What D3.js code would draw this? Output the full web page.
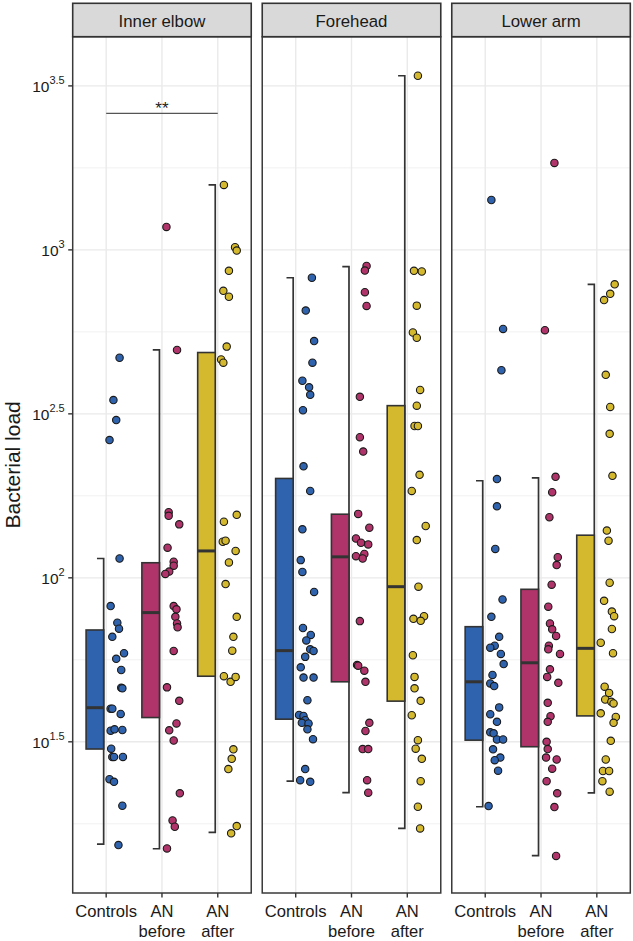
<!DOCTYPE html>
<html><head><meta charset="utf-8">
<script src="https://cdn.jsdelivr.net/npm/d3@7"></script>
<style>body{margin:0;background:#fff}svg{display:block}text{font-family:"Liberation Sans",Arial,sans-serif}</style>
</head><body>
<script>
// ---- data (values are log10 of bacterial load; second entry = horizontal jitter, fraction of category step) ----
const sites = ["Inner elbow", "Forehead", "Lower arm"];
const categories = ["Controls", "AN before", "AN after"];
const categoryLines = [["Controls"], ["AN", "before"], ["AN", "after"]];
const colors = ["#2F63AD", "#B0346A", "#D4B82E"];
const yTickExponents = ["1.5", "2", "2.5", "3", "3.5"];

const innerElbowControls = [[2.671,0.24],[2.542,0.13],[2.481,0.18],[2.420,0.06],[2.059,0.24],[1.914,0.08],[1.863,0.20],[1.845,0.23],[1.820,0.11],[1.770,0.32],[1.753,0.18],[1.719,0.27],[1.665,0.27],[1.663,0.29],[1.601,0.08],[1.601,0.11],[1.585,0.26],[1.534,0.08],[1.538,0.15],[1.536,0.29],[1.479,0.09],[1.454,0.11],[1.454,0.14],[1.454,0.30],[1.386,0.06],[1.378,0.14],[1.305,0.29],[1.185,0.22]];
const innerElbowANBefore = [[3.070,0.08],[2.695,0.27],[2.200,0.12],[2.189,0.12],[2.163,0.31],[2.092,0.10],[2.049,0.21],[2.037,0.21],[2.019,0.13],[2.012,0.06],[1.914,0.21],[1.904,0.26],[1.881,0.24],[1.861,0.27],[1.849,0.28],[1.777,0.21],[1.666,0.09],[1.625,0.31],[1.556,0.26],[1.535,0.13],[1.504,0.21],[1.343,0.32],[1.260,0.19],[1.241,0.23],[1.175,0.09]];
const innerElbowANAfter = [[3.198,0.11],[3.008,0.31],[2.998,0.34],[2.936,0.20],[2.875,0.10],[2.857,0.20],[2.705,0.16],[2.666,0.06],[2.656,0.10],[2.192,0.34],[2.171,0.11],[2.110,0.09],[2.113,0.14],[2.082,0.32],[2.047,0.20],[1.981,0.14],[1.881,0.34],[1.820,0.28],[1.778,0.26],[1.700,0.11],[1.683,0.23],[1.698,0.32],[1.477,0.28],[1.448,0.25],[1.417,0.19],[1.243,0.34],[1.221,0.24]];

const foreheadControls = [[2.915,0.29],[2.815,0.18],[2.722,0.33],[2.656,0.30],[2.601,0.12],[2.581,0.24],[2.558,0.26],[2.511,0.13],[2.340,0.14],[2.265,0.26],[2.148,0.12],[2.054,0.09],[2.018,0.12],[1.957,0.33],[1.847,0.13],[1.826,0.27],[1.809,0.19],[1.782,0.26],[1.777,0.32],[1.759,0.17],[1.727,0.09],[1.696,0.14],[1.696,0.32],[1.627,0.21],[1.582,0.06],[1.579,0.14],[1.566,0.17],[1.558,0.11],[1.556,0.23],[1.538,0.21],[1.508,0.31],[1.417,0.17],[1.383,0.08],[1.378,0.26]];
const foreheadANBefore = [[2.951,0.27],[2.937,0.24],[2.871,0.24],[2.829,0.27],[2.552,0.15],[2.429,0.15],[2.385,0.21],[2.195,0.12],[2.153,0.32],[2.120,0.08],[2.107,0.17],[2.102,0.30],[2.066,0.08],[2.073,0.23],[2.059,0.20],[1.868,0.15],[1.734,0.10],[1.732,0.12],[1.717,0.23],[1.683,0.25],[1.558,0.32],[1.533,0.25],[1.478,0.20],[1.478,0.30],[1.383,0.28],[1.345,0.30]];
const foreheadANAfter = [[3.531,0.19],[2.936,0.12],[2.934,0.26],[2.830,0.17],[2.748,0.10],[2.732,0.17],[2.573,0.23],[2.525,0.17],[2.463,0.13],[2.463,0.19],[2.314,0.22],[2.265,0.08],[2.158,0.33],[2.115,0.17],[1.973,0.20],[1.883,0.30],[1.875,0.11],[1.869,0.24],[1.764,0.10],[1.698,0.13],[1.663,0.13],[1.625,0.24],[1.581,0.08],[1.505,0.19],[1.479,0.15],[1.448,0.26],[1.380,0.24],[1.302,0.19],[1.236,0.23]];

const lowerArmControls = [[3.152,0.11],[2.759,0.32],[2.633,0.29],[2.301,0.21],[2.218,0.21],[2.088,0.18],[1.934,0.31],[1.881,0.11],[1.820,0.25],[1.793,0.17],[1.787,0.09],[1.768,0.28],[1.737,0.33],[1.704,0.13],[1.678,0.09],[1.670,0.16],[1.605,0.25],[1.584,0.09],[1.561,0.21],[1.529,0.09],[1.526,0.15],[1.507,0.21],[1.507,0.32],[1.477,0.14],[1.452,0.27],[1.444,0.17],[1.412,0.23],[1.304,0.06]];
const lowerArmANBefore = [[3.265,0.24],[2.755,0.07],[2.308,0.26],[2.261,0.20],[2.185,0.15],[2.063,0.30],[2.039,0.28],[1.979,0.19],[1.912,0.13],[1.861,0.16],[1.843,0.20],[1.823,0.27],[1.793,0.14],[1.782,0.13],[1.768,0.34],[1.721,0.16],[1.698,0.11],[1.680,0.31],[1.619,0.12],[1.578,0.17],[1.561,0.12],[1.500,0.10],[1.478,0.12],[1.452,0.09],[1.446,0.28],[1.418,0.20],[1.380,0.10],[1.343,0.29],[1.301,0.24],[1.152,0.27]];
const lowerArmANAfter = [[2.895,0.32],[2.866,0.24],[2.847,0.13],[2.619,0.16],[2.521,0.24],[2.439,0.23],[2.311,0.28],[2.144,0.18],[2.113,0.21],[1.985,0.23],[1.930,0.13],[1.897,0.27],[1.883,0.31],[1.844,0.27],[1.802,0.07],[1.770,0.29],[1.668,0.14],[1.649,0.22],[1.629,0.15],[1.622,0.26],[1.617,0.30],[1.587,0.07],[1.576,0.34],[1.558,0.30],[1.503,0.25],[1.446,0.16],[1.411,0.11],[1.411,0.22],[1.380,0.10],[1.348,0.23]];

// box stats: [lower whisker, Q1, median, Q3, upper whisker] (log10)
const innerElbowBoxes = [[1.188,1.478,1.604,1.841,2.059],[1.174,1.574,1.894,2.046,2.695],[1.224,1.700,2.082,2.687,3.198]];
const foreheadBoxes   = [[1.380,1.569,1.778,2.303,2.915],[1.345,1.683,2.064,2.194,2.949],[1.236,1.624,1.973,2.525,3.531]];
const lowerArmBoxes   = [[1.302,1.505,1.683,1.851,2.296],[1.153,1.485,1.741,1.965,2.305],[1.344,1.579,1.785,2.130,2.895]];

// significance annotation
const sigSite = "Inner elbow", sigFrom = "Controls", sigTo = "AN after", sigLevel = 3.416, sigLabel = "**";

const yDomainLog = [1.039, 3.650];

// ---- build ----
const points = [innerElbowControls, innerElbowANBefore, innerElbowANAfter,
                foreheadControls, foreheadANBefore, foreheadANAfter,
                lowerArmControls, lowerArmANBefore, lowerArmANAfter];
const boxes = [innerElbowBoxes, foreheadBoxes, lowerArmBoxes];

const W = 633, H = 941;
const plotTop = 36.7, plotBottom = 893, plotLeft = 72.7, plotRight = 630.3;
const stripTop = 3.3;

const svg = d3.select("body").append("svg").attr("width", W).attr("height", H);

const fx = d3.scaleBand().domain(sites).range([plotLeft, plotRight]).paddingInner(0.058).paddingOuter(0);
const pw = fx.bandwidth();
const x = d3.scalePoint().domain(categories).range([0, pw]).padding(0.6);
const step = x.step();
const y = d3.scaleLog().domain(yDomainLog.map(v => Math.pow(10, v))).range([plotBottom, plotTop]);
const ly = v => y(Math.pow(10, v));

const majorTicks = yTickExponents.map(e => +e);
const minorTicks = [1.25, 1.75, 2.25, 2.75, 3.25];

sites.forEach((site, si) => {
  const g = svg.append("g").attr("transform", `translate(${fx(site)},0)`);
  // background grid
  g.selectAll(".minor").data(minorTicks).join("line")
    .attr("x1", 0).attr("x2", pw).attr("y1", d => ly(d)).attr("y2", d => ly(d))
    .attr("stroke", "#F1F1F1").attr("stroke-width", 1);
  g.selectAll(".major").data(majorTicks).join("line")
    .attr("x1", 0).attr("x2", pw).attr("y1", d => ly(d)).attr("y2", d => ly(d))
    .attr("stroke", "#EAEAEA").attr("stroke-width", 1.4);
  g.selectAll(".vgrid").data(categories).join("line")
    .attr("x1", d => x(d)).attr("x2", d => x(d)).attr("y1", plotTop).attr("y2", plotBottom)
    .attr("stroke", "#EAEAEA").attr("stroke-width", 1.4);

  // half boxplots (left side)
  categories.forEach((cat, ci) => {
    const b = boxes[si][ci];
    const cx = x(cat);
    const bl = cx - 0.36 * step, br = cx - 0.045 * step;
    g.append("path")
      .attr("d", `M${br - 0.12 * step},${ly(b[4])}H${br}V${ly(b[0])}H${br - 0.12 * step}`)
      .attr("fill", "none").attr("stroke", "#333").attr("stroke-width", 1.7);
    g.append("rect").attr("x", bl).attr("width", br - bl)
      .attr("y", ly(b[3])).attr("height", ly(b[1]) - ly(b[3]))
      .attr("fill", colors[ci]).attr("stroke", "#333").attr("stroke-width", 1.6);
    g.append("line").attr("x1", bl).attr("x2", br).attr("y1", ly(b[2])).attr("y2", ly(b[2]))
      .attr("stroke", "#333").attr("stroke-width", 3);
  });

  // points (right side)
  categories.forEach((cat, ci) => {
    const pts = points[si * 3 + ci];
    g.append("g").selectAll("circle").data(pts).join("circle")
      .attr("cx", d => x(cat) + d[1] * step)
      .attr("cy", d => ly(d[0]))
      .attr("r", 3.7)
      .attr("fill", colors[ci]).attr("stroke", "#1a1a1a").attr("stroke-width", 1.1);
  });

  // significance
  if (site === sigSite) {
    g.append("line").attr("x1", x(sigFrom)).attr("x2", x(sigTo))
      .attr("y1", ly(sigLevel)).attr("y2", ly(sigLevel))
      .attr("stroke", "#555").attr("stroke-width", 1.3);
    g.append("text").attr("x", (x(sigFrom) + x(sigTo)) / 2).attr("y", ly(sigLevel) + 1)
      .attr("text-anchor", "middle").attr("font-size", 17).attr("fill", "#222").text(sigLabel);
  }

  // panel border
  g.append("rect").attr("x", 0).attr("y", plotTop).attr("width", pw).attr("height", plotBottom - plotTop)
    .attr("fill", "none").attr("stroke", "#3a3a3a").attr("stroke-width", 1.5);
  // strip
  g.append("rect").attr("x", 0).attr("y", stripTop).attr("width", pw).attr("height", plotTop - stripTop)
    .attr("fill", "#D9D9D9").attr("stroke", "#333").attr("stroke-width", 1.6);
  g.append("text").attr("x", pw / 2).attr("y", 26.5).attr("text-anchor", "middle")
    .attr("font-size", 16.8).attr("fill", "#1a1a1a").text(site);

  // x axis
  const xa = g.append("g");
  categories.forEach((cat, ci) => {
    xa.append("line").attr("x1", x(cat)).attr("x2", x(cat)).attr("y1", plotBottom).attr("y2", plotBottom + 4.5)
      .attr("stroke", "#333").attr("stroke-width", 1.4);
    const t = xa.append("text").attr("text-anchor", "middle").attr("font-size", 16.6).attr("fill", "#1a1a1a");
    categoryLines[ci].forEach((ln, li) => {
      t.append("tspan").attr("x", x(cat)).attr("y", 917 + li * 20).text(ln);
    });
  });
});

// y axis (left only)
const yg = svg.append("g");
majorTicks.forEach((v, i) => {
  yg.append("line").attr("x1", plotLeft - 4.5).attr("x2", plotLeft).attr("y1", ly(v)).attr("y2", ly(v))
    .attr("stroke", "#333").attr("stroke-width", 1.4);
  const t = yg.append("text").attr("x", plotLeft - 8).attr("y", ly(v) + 6.5).attr("text-anchor", "end")
    .attr("fill", "#1a1a1a").attr("font-size", 15.5);
  t.append("tspan").text("10");
  t.append("tspan").attr("font-size", 11).attr("dy", -8).text(yTickExponents[i]);
});

svg.append("text").attr("transform", `translate(20,${(plotTop + plotBottom) / 2}) rotate(-90)`)
  .attr("text-anchor", "middle").attr("font-size", 21).attr("fill", "#1a1a1a").text("Bacterial load");
</script>
</body></html>
